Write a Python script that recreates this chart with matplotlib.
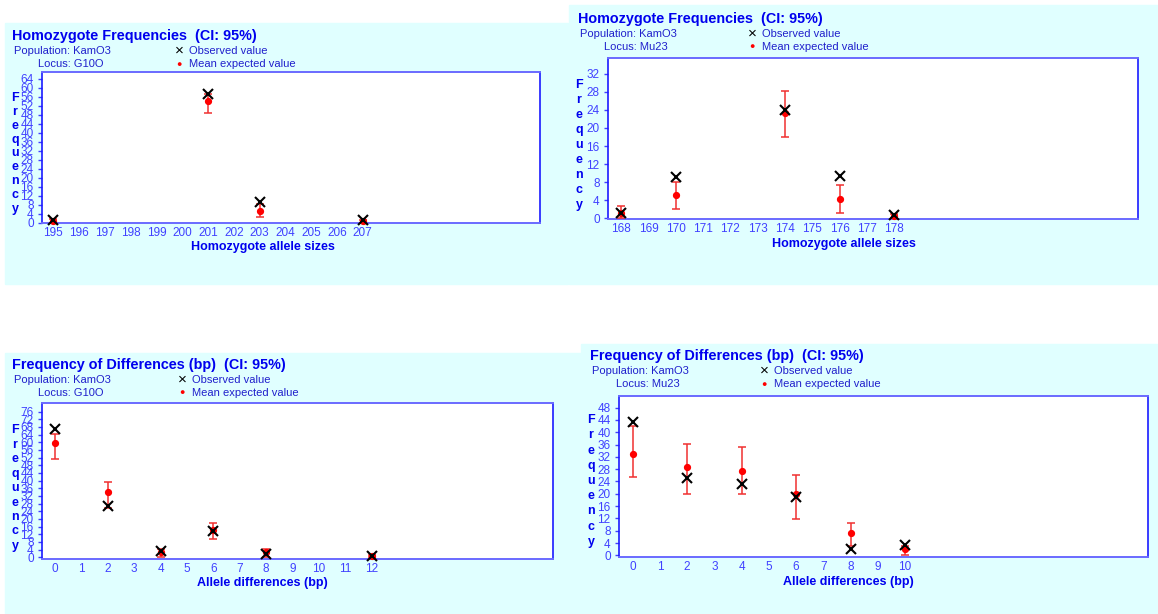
import matplotlib
matplotlib.use("Agg")
import matplotlib.pyplot as plt
from matplotlib.patches import Rectangle

# homozygote frequencies, locus G10O
g10_sizes = [195, 201, 203, 207]
g10_obs = [1, 57, 9, 1]
g10_mean = [0.8, 54.3, 5.3, 0.6]
g10_lo = [0, 48.7, 2.7, 0]
g10_hi = [1.5, 57.2, 8.5, 1.0]
g10_ticks = list(range(195, 208))

# homozygote frequencies, locus Mu23
mu_sizes = [168, 170, 174, 176, 178]
mu_obs = [1.2, 9.2, 24, 9.3, 0.7]
mu_mean = [1.1, 5.2, 23.3, 4.3, 0.5]
mu_lo = [0, 2.0, 18.0, 1.2, 0]
mu_hi = [2.8, 8.1, 28.1, 7.3, 1.0]
mu_ticks = list(range(168, 179))

# frequency of differences, locus G10O
g10_diffs = [0, 2, 4, 6, 8, 12]
g10d_obs = [66.8, 27, 3.3, 13.9, 1.6, 0.7]
g10d_mean = [59.8, 34, 3.0, 14.0, 2.8, 0.7]
g10d_lo = [51.3, 25.6, 0, 9.6, 0, 0]
g10d_hi = [64.5, 39.1, 4.5, 18.1, 4.5, 1.2]
g10d_ticks = list(range(0, 13))

# frequency of differences, locus Mu23
mu_diffs = [0, 2, 4, 6, 8, 10]
mud_obs = [43.2, 25.2, 23.1, 19.0, 1.9, 3.5]
mud_mean = [33.0, 28.6, 27.4, 19.8, 7.3, 2.0]
mud_lo = [25.3, 19.8, 19.8, 11.7, 2.9, 0]
mud_hi = [42.0, 36.2, 35.3, 26.2, 10.5, 3.0]
mud_ticks = list(range(0, 11))

W, H = 1158, 614
BG = "#e0ffff"
BLUE = "#0000ee"
TICKBLUE = "#4040ff"
RED = "#f03030"

plt.rcParams["font.family"] = ["Liberation Sans", "DejaVu Sans"]

fig = plt.figure(figsize=(W / 100, H / 100), dpi=100)
fig.patch.set_facecolor("white")


def px(x, y):
    return x / W, 1 - y / H


def ftext(x, y, s, **kw):
    fx, fy = px(x, y)
    kw.setdefault("va", "center")
    fig.text(fx, fy, s, **kw)


def panel(box, axbox, title, locus, head, legx, freq_y, xlab, xlab_x, xlab_y,
          x, obs, mean, lo, hi, xticks, xlim, ystep, ytop, ylim):
    # cyan backdrop, kept underneath the axes
    x0, y0, x1, y1 = box
    fx0, fy1 = px(x0, y1)
    fig.patches.append(Rectangle((fx0, fy1), (x1 - x0) / W, (y1 - y0) / H,
                                 transform=fig.transFigure, color=BG,
                                 zorder=-10))

    # headings and legend
    tx, ty = head
    ftext(tx, ty, title, color=BLUE, fontsize=10.4, fontweight="bold")
    ftext(tx + 2, ty + 15, "Population: KamO3", color="#2020cc", fontsize=8)
    ftext(tx + 26, ty + 28, "Locus: " + locus, color="#2020cc", fontsize=8)
    ftext(legx, ty + 15, "\u00d7", color="black", fontsize=11, ha="center")
    ftext(legx + 10, ty + 15, "Observed value", color="#2020cc", fontsize=8)
    ftext(legx, ty + 28, "\u25cf", color="red", fontsize=6.5, ha="center")
    ftext(legx + 10, ty + 28, "Mean expected value", color="#2020cc", fontsize=8)

    # vertical axis title, one letter per row
    fx_, top, bot = freq_y
    word = "Frequency"
    for i, ch in enumerate(word):
        yy = top + (bot - top) * i / (len(word) - 1)
        ftext(fx_, yy, ch, color=BLUE, fontsize=9, fontweight="bold", ha="center")

    ftext(xlab_x, xlab_y, xlab, color=BLUE, fontsize=9, fontweight="bold",
          ha="center")

    ax0, ay0, ax1, ay1 = axbox
    l, b = px(ax0, ay1)
    ax = fig.add_axes([l, b, (ax1 - ax0) / W, (ay1 - ay0) / H])
    ax.set_zorder(1)
    ax.set_facecolor("white")
    for side in ["top", "bottom"]:
        ax.spines[side].set_color("#6a6aff")
        ax.spines[side].set_linewidth(1.4)
    for side in ["left", "right"]:
        ax.spines[side].set_color("#1a1aff")
        ax.spines[side].set_linewidth(1.2)

    yerr = [[m - a for m, a in zip(mean, lo)], [b_ - m for m, b_ in zip(mean, hi)]]
    ax.errorbar(x, mean, yerr=yerr, fmt="o", color="red", ecolor=RED,
                elinewidth=1.1, capsize=3.2, capthick=1.1, markersize=4.2,
                clip_on=False, zorder=3)
    ax.plot(x, obs, "x", color="black", markersize=7, markeredgewidth=1.5,
            clip_on=False, zorder=4)

    ax.set_xlim(*xlim)
    ax.set_ylim(*ylim)
    ax.set_xticks(xticks)
    ax.set_yticks(list(range(0, ytop + 1, ystep)))
    ax.tick_params(axis="x", length=0, pad=3, labelsize=8.5,
                   labelcolor=TICKBLUE)
    ax.tick_params(axis="y", length=3, width=1, color=TICKBLUE, pad=3,
                   labelsize=8.5, labelcolor=TICKBLUE)
    for lab in ax.get_xticklabels() + ax.get_yticklabels():
        lab.set_family(["Liberation Sans Narrow", "Liberation Sans"])
    return ax


panel((5, 23, 568, 284), (42, 72, 540, 223),
      "Homozygote Frequencies  (CI: 95%)", "G10O", (12, 36), 179,
      (15, 98, 209), "Homozygote allele sizes", 263, 247,
      g10_sizes, g10_obs, g10_mean, g10_lo, g10_hi, g10_ticks,
      (194.56, 213.88), 4, 64, (-0.15, 67))

panel((569, 5, 1158, 284), (608, 58, 1138, 219),
      "Homozygote Frequencies  (CI: 95%)", "Mu23", (578, 19), 752,
      (579, 85, 205), "Homozygote allele sizes", 844, 244,
      mu_sizes, mu_obs, mu_mean, mu_lo, mu_hi, mu_ticks,
      (167.52, 186.92), 4, 32, (-0.15, 35.5))

panel((5, 353, 581, 614), (42, 403, 553, 559),
      "Frequency of Differences (bp)  (CI: 95%)", "G10O", (12, 365), 182,
      (15, 430, 546), "Allele differences (bp)", 262, 583,
      g10_diffs, g10d_obs, g10d_mean, g10d_lo, g10d_hi, g10d_ticks,
      (-0.49, 18.87), 4, 76, (-0.9, 80.5))

panel((581, 344, 1158, 614), (619, 396, 1148, 557),
      "Frequency of Differences (bp)  (CI: 95%)", "Mu23", (590, 356), 764,
      (591, 420, 542), "Allele differences (bp)", 848, 582,
      mu_diffs, mud_obs, mud_mean, mud_lo, mud_hi, mud_ticks,
      (-0.5, 18.92), 4, 48, (-0.55, 51.8))

fig.savefig("out.png", dpi=100, facecolor="white")
